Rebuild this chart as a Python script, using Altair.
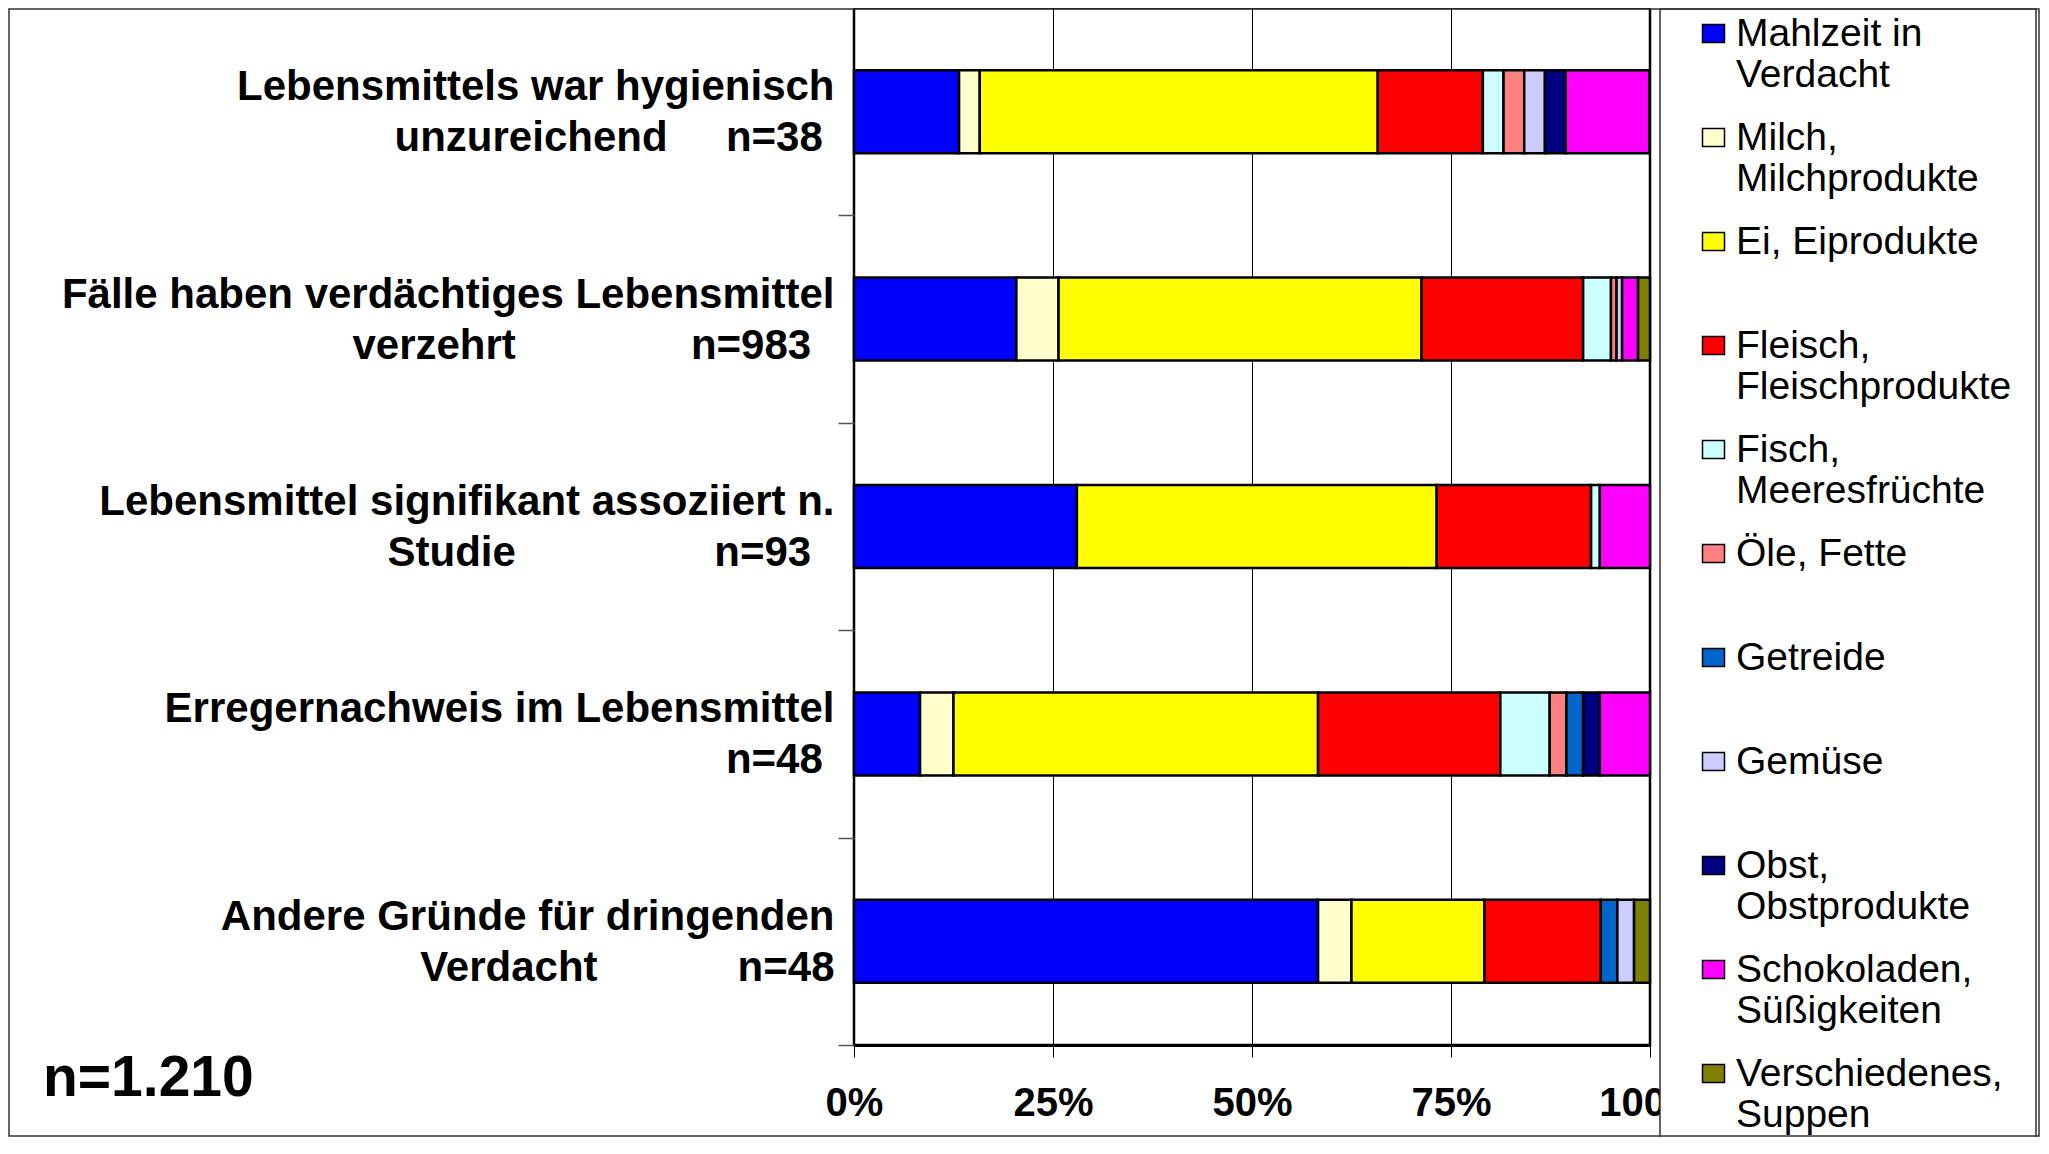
import altair as alt
import pandas as pd

NB = "\u00a0"
ZW = "\u200b"

# ---- data ----
row_line1 = [
    "Lebensmittels war hygienisch",
    "Fälle haben verdächtiges Lebensmittel",
    "Lebensmittel signifikant assoziiert n.",
    "Erregernachweis im Lebensmittel",
    "Andere Gründe für dringenden",
]
row_line2 = ["unzureichend", "verzehrt", "Studie", "", "Verdacht"]
row_n = [38, 983, 93, 48, 48]
total_label = "n=1.210"

groups = [
    "Mahlzeit in|Verdacht",
    "Milch,|Milchprodukte",
    "Ei, Eiprodukte|" + NB,
    "Fleisch,|Fleischprodukte",
    "Fisch,|Meeresfrüchte",
    "Öle, Fette|" + NB,
    "Getreide|" + NB,
    "Gemüse|" + NB,
    "Obst,|Obstprodukte",
    "Schokoladen,|Süßigkeiten",
    "Verschiedenes,|Suppen",
]
colors = ["#0000FF", "#FFFFCC", "#FFFF00", "#FF0000", "#CCFFFF", "#FF8080",
          "#0066CC", "#CCCCFF", "#000080", "#FF00FF", "#808000"]

# percentages per row (same order as row_line1)
mahlzeit = [13.2, 20.4, 28.0, 8.3, 58.3]
milch = [2.6, 5.3, 0.0, 4.2, 4.2]
ei = [50.0, 45.6, 45.2, 45.8, 16.7]
fleisch = [13.2, 20.3, 19.4, 22.9, 14.6]
fisch = [2.6, 3.5, 1.1, 6.2, 0.0]
oele = [2.6, 0.7, 0.0, 2.1, 0.0]
getreide = [0.0, 0.0, 0.0, 2.1, 2.1]
gemuese = [2.6, 0.7, 0.0, 0.0, 2.1]
obst = [2.6, 0.0, 0.0, 2.1, 0.0]
schoko = [10.5, 2.0, 6.4, 6.3, 0.0]
versch = [0.0, 1.5, 0.0, 0.0, 2.1]
series = [mahlzeit, milch, ei, fleisch, fisch, oele, getreide, gemuese, obst, schoko, versch]

x_ticks = [0, 25, 50, 75, 100]

# ---- label strings (line breaks via "|", non-breaking spaces for spacing) ----
gap_mid = [5, 15, 17, 0, 12]
gap_end = [1, 2, 2, 1, 0]
row_keys = []
for l1, l2, n, g, e in zip(row_line1, row_line2, row_n, gap_mid, gap_end):
    tail = (NB * e + ZW) if e else ""
    if l2:
        row_keys.append(f"{l1}|{l2}{NB * g}n={n}{tail}")
    else:
        row_keys.append(f"{l1}|n={n}{tail}")

records = []
for gi, (g, vals) in enumerate(zip(groups, series)):
    for ri, v in enumerate(vals):
        if v > 0:
            records.append({"row": row_keys[ri], "group": g, "value": v, "gi": gi})
df = pd.DataFrame(records)

FONT = "Liberation Sans"
PLOT_W, PLOT_H = 796, 1037
HALF_STEP = PLOT_H / len(row_keys) / 2

bars = alt.Chart(df).mark_bar(stroke="black", strokeWidth=2.5).encode(
    y=alt.Y(
        "row:N", sort=row_keys,
        scale=alt.Scale(paddingInner=0.6, paddingOuter=0.3),
        axis=alt.Axis(
            title=None, labelExpr="split(datum.label, '|')", labelFont=FONT,
            labelFontSize=42, labelFontWeight="bold", labelLineHeight=51,
            labelPadding=4, tickOffset=HALF_STEP, labelOffset=-25 - HALF_STEP,
            ticks=True, tickSize=16, tickColor="#555555", tickWidth=1.5,
            domain=False, labelLimit=1200, labelColor="black",
            labelAlign="right", labelBaseline="middle",
        ),
    ),
    x=alt.X(
        "value:Q", stack="zero",
        scale=alt.Scale(domain=[0, 100], nice=False, clamp=True),
        axis=alt.Axis(
            values=x_ticks, labelExpr="datum.value + '%'", title=None,
            grid=True, gridColor="black", gridWidth=1, gridOpacity=1,
            domainColor="black", domainWidth=3, tickColor="black",
            tickSize=12, tickWidth=1, labelFontSize=40, labelFontWeight="bold",
            labelFont=FONT, labelColor="black", labelPadding=26,
            labelFlush=False, labelOverlap=False,
        ),
    ),
    color=alt.Color(
        "group:N",
        scale=alt.Scale(domain=groups, range=colors),
        legend=alt.Legend(
            title=None, orient="none", legendX=806, legendY=1, padding=5,
            symbolOffset=29, labelOffset=3, rowPadding=23,
            symbolType="M-1.1,-0.9H1.1V0.9H-1.1Z", symbolSize=400,
            symbolStrokeColor="black", symbolStrokeWidth=1.5, symbolOpacity=1,
            labelFont=FONT, labelFontSize=39, labelColor="black",
            labelLimit=600, labelExpr="split(datum.label, '|')",
        ),
    ),
    order=alt.Order("gi:Q"),
)

deco = pd.DataFrame([{"t": total_label}])

frame = alt.Chart(deco).mark_rect(fillOpacity=0, stroke="#333333", strokeWidth=1.5).encode(
    x=alt.value(-845), x2=alt.value(1185), y=alt.value(1), y2=alt.value(1128)
)
legend_box = alt.Chart(deco).mark_rect(fill="white", stroke="#333333", strokeWidth=1.5).encode(
    x=alt.value(806), x2=alt.value(1182), y=alt.value(1), y2=alt.value(1200)
)
total_text = alt.Chart(deco).mark_text(
    align="left", baseline="middle", fontSize=57, fontWeight="bold", font=FONT, color="black"
).encode(x=alt.value(-811), y=alt.value(1071), text="t:N")

chart = alt.layer(bars, total_text, legend_box, frame).properties(
    width=PLOT_W, height=PLOT_H,
    autosize=alt.AutoSizeParams(type="none"),
    padding={"left": 846, "top": 0, "right": 390, "bottom": 92},
).configure_view(stroke="black", strokeWidth=2.5)

chart.save("out.html", embed_options={"renderer": "svg", "actions": False})
